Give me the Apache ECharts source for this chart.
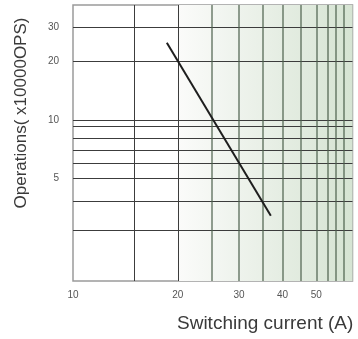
<!DOCTYPE html>
<html>
<head>
<meta charset="utf-8">
<script src="https://cdn.jsdelivr.net/npm/echarts@6/dist/echarts.min.js"></script>
<style>
html,body{margin:0;padding:0;background:#fff;}
#c{width:358px;height:339px;}
</style>
</head>
<body>
<div id="c"></div>
<script>
// Data
var curveX = [18.6, 37];
var curveY = [25, 3.2];
var xTickLabels = [10, 20, 30, 40, 50];
var yTickLabels = [5, 10, 20, 30];
var xGridDark = [15, 20];
var xGridGreen = [25, 30, 35, 40, 45, 50, 54, 57, 60];
var yGrid = [30, 20, 10, 9.3, 8, 7, 6, 5, 3.8, 2.7];
var xMin = 10, xMax = 63.5, yMin = 1.475, yMax = 39.2;
var shadeFrom = 20;

var chart = echarts.init(document.getElementById('c'));
var curve = curveX.map(function (x, i) { return [x, curveY[i]]; });

var option = {
  animation: false,
  grid: {
    left: 73, top: 5, right: 5.5, bottom: 58,
    show: true, borderColor: '#9a9a9a', borderWidth: 1.5, backgroundColor: '#fff'
  },
  xAxis: {
    type: 'log', logBase: 10, min: xMin, max: xMax,
    axisLine: { show: false }, axisTick: { show: false }, splitLine: { show: false },
    axisLabel: { customValues: xTickLabels, color: '#555', fontSize: 10, margin: 9, fontFamily: 'Liberation Sans, Arial, sans-serif' }
  },
  yAxis: {
    type: 'log', logBase: 10, min: yMin, max: yMax,
    axisLine: { show: false }, axisTick: { show: false }, splitLine: { show: false },
    axisLabel: { customValues: yTickLabels, color: '#555', fontSize: 10, margin: 14, fontFamily: 'Liberation Sans, Arial, sans-serif' }
  },
  graphic: [
    { type: 'text', left: 177, top: 314, style: { text: 'Switching current (A)', fontSize: 19, fill: '#3a3a3a', fontFamily: 'Liberation Sans, Arial, sans-serif' } },
    { type: 'text', x: 21, y: 113, rotation: Math.PI / 2, style: { text: 'Operations( x10000OPS)', fontSize: 17, fill: '#3a3a3a', align: 'center', verticalAlign: 'middle', fontFamily: 'Liberation Sans, Arial, sans-serif' } }
  ],
  series: [
    {
      type: 'line', data: [], silent: true, z: 1,
      markArea: {
        silent: true,
        itemStyle: {
          color: new echarts.graphic.LinearGradient(0, 0, 1, 0, [
            { offset: 0, color: '#fbfbfa' },
            { offset: 1, color: '#d6e4d3' }
          ])
        },
        data: [[{ xAxis: shadeFrom, yAxis: yMin }, { xAxis: xMax, yAxis: yMax }]]
      }
    },
    {
      type: 'line', data: [], silent: true, z: 2,
      markLine: {
        silent: true, symbol: 'none', label: { show: false },
        lineStyle: { color: '#3c3c3c', width: 1, type: 'solid' },
        data: xGridDark.map(function (v) { return { xAxis: v }; })
          .concat(yGrid.map(function (v) { return { yAxis: v }; }))
      }
    },
    {
      type: 'line', data: [], silent: true, z: 2,
      markLine: {
        silent: true, symbol: 'none', label: { show: false },
        lineStyle: { color: 'rgba(75,95,75,0.8)', width: 1.5, type: 'solid' },
        data: xGridGreen.map(function (v) { return { xAxis: v }; })
      }
    },
    {
      type: 'line', data: curve, z: 5, symbol: 'none',
      lineStyle: { color: '#1e1e1e', width: 2 }
    }
  ]
};
chart.setOption(option);
</script>
</body>
</html>
